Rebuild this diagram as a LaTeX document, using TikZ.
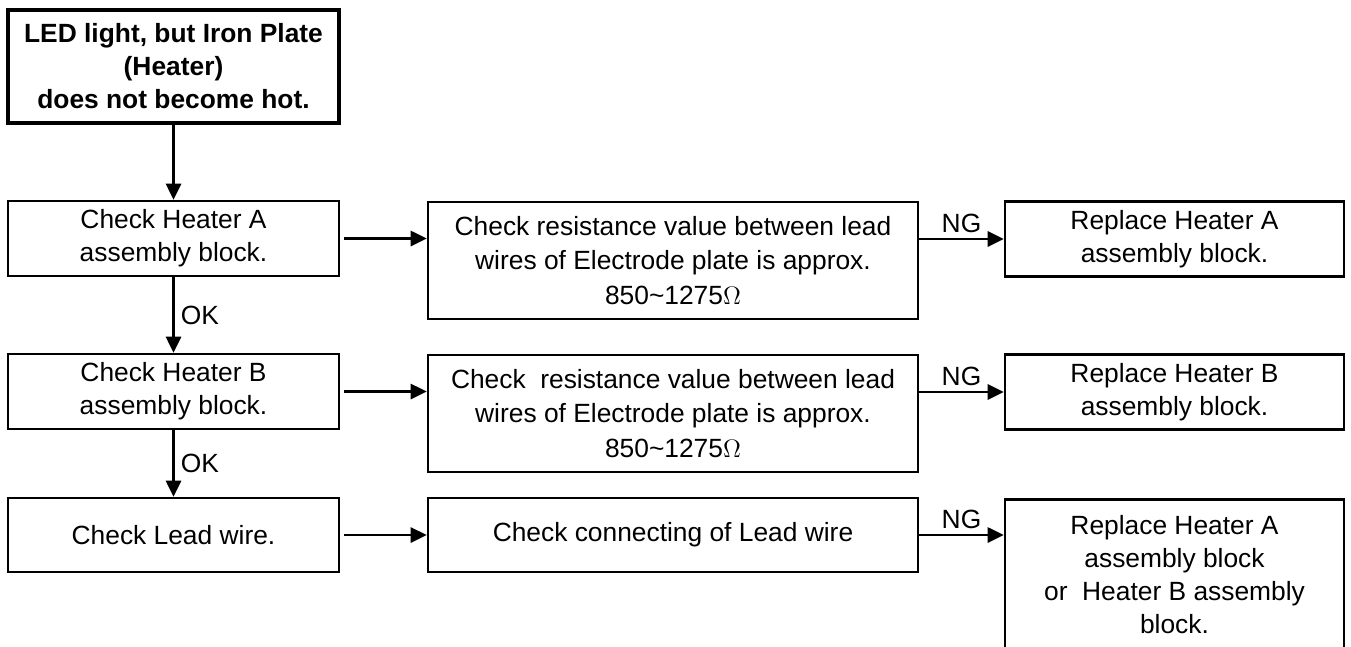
\documentclass[tikz,border=0pt]{standalone}
\usepackage{fontspec}
\setmainfont{Liberation Sans}
\usetikzlibrary{arrows.meta}

\begin{document}
\begin{tikzpicture}[
  box/.style={draw, line width=1.5pt, minimum width=6.62cm, minimum height=1.5cm,
    align=center, inner sep=0pt, font=\fontsize{15}{18.8}\selectfont},
  widebox/.style={box, minimum width=9.8cm, minimum height=2.34cm,
    font=\fontsize{15}{19.6}\selectfont},
  flow/.style={-{Triangle[length=0.32cm,width=0.3cm]}, line width=1.6pt},
  tag/.style={font=\fontsize{15}{18}\selectfont}
]
\useasboundingbox (0,0) rectangle (27.02,12.92);
\node[box, line width=2.8pt, minimum height=2.26cm,
  font=\bfseries\fontsize{15}{18.8}\selectfont] (start) at (3.47,11.59)
  {LED light, but Iron Plate\\(Heater)\\does not become hot.};
% left column
\node[box] (heatA) at (3.47,8.15) {Check Heater A\\assembly block.};
\node[box] (heatB) at (3.47,5.09) {Check Heater B\\assembly block.};
\node[box, minimum height=1.48cm] (lead) at (3.47,2.22) {Check Lead wire.};
% middle column
\node[widebox] (resA) at (13.46,7.71)
  {Check resistance value between lead\\wires of Electrode plate is approx.\\850\textasciitilde1275$\Omega$};
\node[widebox] (resB) at (13.46,4.65)
  {Check~ resistance value between lead\\wires of Electrode plate is approx.\\850\textasciitilde1275$\Omega$};
\node[box, minimum width=9.8cm, minimum height=1.48cm] (conn) at (13.46,2.22)
  {Check connecting of Lead wire};
% right column
\node[box, minimum width=6.78cm] (repA) at (23.49,8.14) {Replace Heater A\\assembly block.};
\node[box, minimum width=6.78cm] (repB) at (23.49,5.08) {Replace Heater B\\assembly block.};
\node[box, minimum width=6.78cm, minimum height=3.0cm, anchor=north] (repAB) at (23.49,2.96)
  {Replace Heater A\\assembly block\\or~ Heater B assembly\\block.};

\draw[flow] (start) -- (heatA);
\draw[flow] (heatA) -- (heatB) node[tag, midway, right] {OK};
\draw[flow] (heatB) -- (lead) node[tag, midway, right] {OK};

\draw[flow, shorten <=2pt] (heatA.east) -- (heatA.east -| resA.west);
\draw[flow, shorten <=2pt] (heatB.east) -- (heatB.east -| resB.west);
\draw[flow, shorten <=2pt] (lead.east) -- (conn.west);

\draw[flow] (resA.east |- repA.west) -- (repA.west) node[tag, midway, above, inner sep=3pt] {NG};
\draw[flow] (resB.east |- repB.west) -- (repB.west) node[tag, midway, above, inner sep=3pt] {NG};
\draw[flow] (conn.east) -- (conn.east -| repAB.west) node[tag, midway, above, inner sep=3pt] {NG};
\end{tikzpicture}
\end{document}
